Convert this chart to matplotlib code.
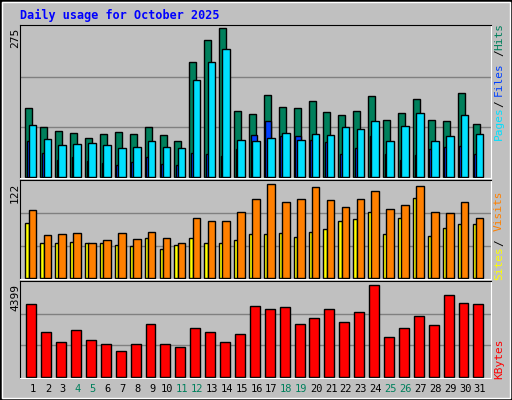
import matplotlib
matplotlib.use("Agg")
import matplotlib.pyplot as plt
from matplotlib.patches import Rectangle

days = list(range(1, 32))
weekends = [4, 5, 11, 12, 18, 19, 25, 26]
hits_y = [328,382,394,400,415,403,397,403,382,406,424,190,124,88,334,346,289,325,328,307,337,349,334,292,361,343,301,361,367,280,373]
files_y = [376,418,436,433,430,436,445,442,424,442,445,244,190,151,421,424,415,400,421,403,406,382,388,367,424,379,343,424,409,349,403]
pages_y = [424,460,481,472,484,490,496,487,472,493,496,460,463,469,448,406,367,409,409,421,427,463,445,409,463,481,466,448,442,439,463]
hits = [round((530 - v) * 275 / 445) for v in hits_y]
files = [round((530 - v) * 275 / 445) for v in files_y]
pages = [round((530 - v) * 275 / 445) for v in pages_y]
visits = [round((304 - v) * 122 / 285) for v in [103,178,175,172,202,193,172,190,169,187,202,127,136,136,109,73,28,82,73,37,76,97,73,46,100,88,34,109,112,79,127]]
sites = [round((304 - v) * 122 / 285) for v in [142,202,202,199,202,202,208,211,187,217,208,187,202,202,193,175,175,172,184,169,160,136,130,109,175,127,67,181,157,145,145]]
kbytes = [round((602 - v) * 4399 / 282) for v in [385,469,499,463,493,505,526,505,445,505,514,457,469,499,475,391,400,394,445,427,400,439,409,328,484,457,421,448,358,382,385]]
max_hits, max_visits, max_kb = 275, 122, 4399

BG = "#C0C0C0"
fig = plt.figure(figsize=(5.12, 4), dpi=100, facecolor=BG)
fig.patches.append(Rectangle((0, 0), 1, 1, transform=fig.transFigure, fill=False, ec="black", lw=2))
fig.patches.append(Rectangle((2/512, 2/400), 508/512, 396/400, transform=fig.transFigure, fill=False, ec="white", lw=1))

L, W = 20/512, 471/512
def mkax(top, bot, ymax):
    ax = fig.add_axes([L, 1 - bot/400, W, (bot - top)/400], facecolor=BG)
    ax.set_xlim(0.13, 31.73)
    ax.set_ylim(-ymax*0.01, ymax*1.01)
    for y in (ymax/3, 2*ymax/3):
        ax.axhline(y, color="#808080", lw=1, zorder=0)
    ax.set_xticks([]); ax.set_yticks([])
    ax.spines["top"].set_color("black"); ax.spines["left"].set_color("black")
    ax.spines["bottom"].set_color("white"); ax.spines["right"].set_color("white")
    return ax

def bars(ax, vals, l, r, color, z):
    ax.bar([d + l for d in days], vals, width=r - l, align="edge", color=color, ec="black", lw=1, zorder=z)

ax1 = mkax(25, 178, max_hits)
bars(ax1, hits, -0.51, -0.04, "#00805C", 2)
bars(ax1, pages, -0.40, 0.0, "#0040FF", 3)
bars(ax1, files, -0.29, 0.22, "#00E0FF", 4)

ax2 = mkax(180, 279, max_visits)
bars(ax2, sites, -0.51, -0.27, "#FFFF00", 2)
bars(ax2, visits, -0.29, 0.22, "#FF8000", 3)

ax3 = mkax(281, 378, max_kb)
bars(ax3, kbytes, -0.45, 0.22, "#FF0000", 2)

mono = "DejaVu Sans Mono"
fig.text(20/512, 1 - 15/400, "Daily usage for October 2025", color="#0000FF", family=mono,
         weight="bold", fontsize=8.5, va="center", ha="left")
for y, t in ((28, str(max_hits)), (183, str(max_visits)), (284, str(max_kb))):
    fig.text(15/512, 1 - y/400, t, rotation=90, family=mono, fontsize=8, va="top", ha="center")

def rlabel(y, t, c):
    fig.text(499/512, 1 - y/400, t, rotation=90, family=mono, fontsize=8, va="center", ha="center", color=c)
rlabel(37, "Hits", "#00805C"); rlabel(53, "/", "black"); rlabel(79, "Files", "#0040FF")
rlabel(104, "/", "black"); rlabel(123, "Pages", "#00E0FF")
rlabel(211, "Visits", "#FF8000"); rlabel(243, "/", "black"); rlabel(263, "Sites", "#FFFF00")
rlabel(359, "KBytes", "#FF0000")

for d in days:
    x = (33 + (d - 1) * 14.9) / 512
    fig.text(x, 1 - 389/400, str(d), family=mono, fontsize=7.5, ha="center", va="center",
             color="#00805C" if d in weekends else "black")

fig.savefig("out.png", dpi=100, facecolor=BG)
